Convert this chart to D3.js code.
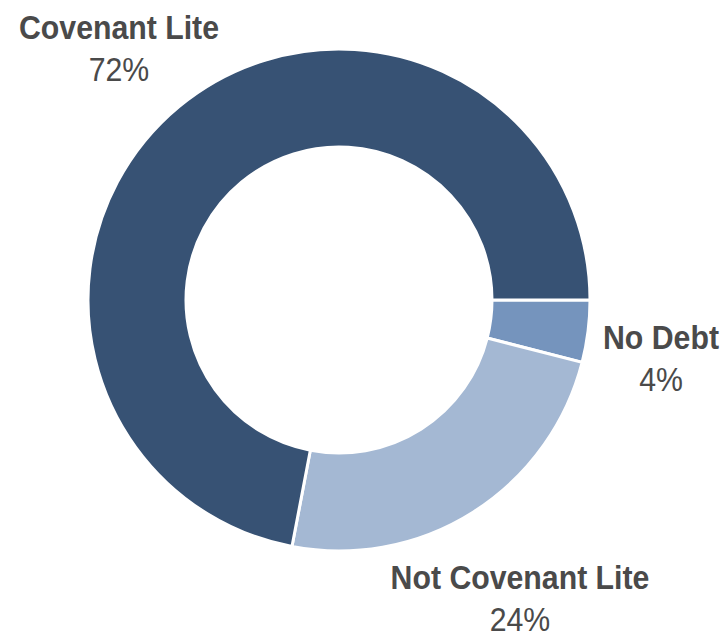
<!DOCTYPE html>
<html>
<head>
<meta charset="utf-8">
<script src="https://cdn.jsdelivr.net/npm/d3@7"></script>
<style>
  body { margin: 0; background: #fff; }
  text { font-family: "Liberation Sans Narrow", "Arial Narrow", "Liberation Sans", sans-serif; fill: #4a4a4a; }
</style>
</head>
<body>
<div id="chart"></div>
<script>
// slices in drawing order (clockwise from 3 o'clock)
const categories = ['No Debt', 'Not Covenant Lite', 'Covenant Lite'];
const values = [4, 24, 72];
const colors = ['#7594bd', '#a4b8d3', '#375274'];
// label anchor spots, in px
const labelPos = [[661, 349], [520, 589], [119, 39]];

const width = 726, height = 642;
const cx = 339, cy = 300, outerR = 251, innerR = 153;

const svg = d3.select('#chart').append('svg')
  .attr('width', width)
  .attr('height', height);

const pie = d3.pie()
  .sort(null)
  .startAngle(Math.PI / 2)
  .endAngle(Math.PI / 2 + 2 * Math.PI);

const arc = d3.arc()
  .innerRadius(innerR)
  .outerRadius(outerR);

const g = svg.append('g')
  .attr('transform', `translate(${cx}, ${cy})`);

g.selectAll('path')
  .data(pie(values))
  .enter()
  .append('path')
  .attr('d', arc)
  .attr('fill', (d, i) => colors[i])
  .attr('stroke', '#fff')
  .attr('stroke-width', 3);

const total = d3.sum(values);

// no narrow font installed, so squeeze the regular one a bit
const labels = svg.selectAll('g.label')
  .data(categories)
  .enter()
  .append('g')
  .attr('class', 'label')
  .attr('transform', (d, i) => `translate(${labelPos[i][0]}, ${labelPos[i][1]}) scale(0.89, 1)`);

labels.append('text')
  .attr('text-anchor', 'middle')
  .style('font-size', '34px')
  .style('font-weight', 'bold')
  .text(d => d);

labels.append('text')
  .attr('text-anchor', 'middle')
  .attr('y', 42)
  .style('font-size', '34px')
  .text((d, i) => Math.round(values[i] / total * 100) + '%');
</script>
</body>
</html>
